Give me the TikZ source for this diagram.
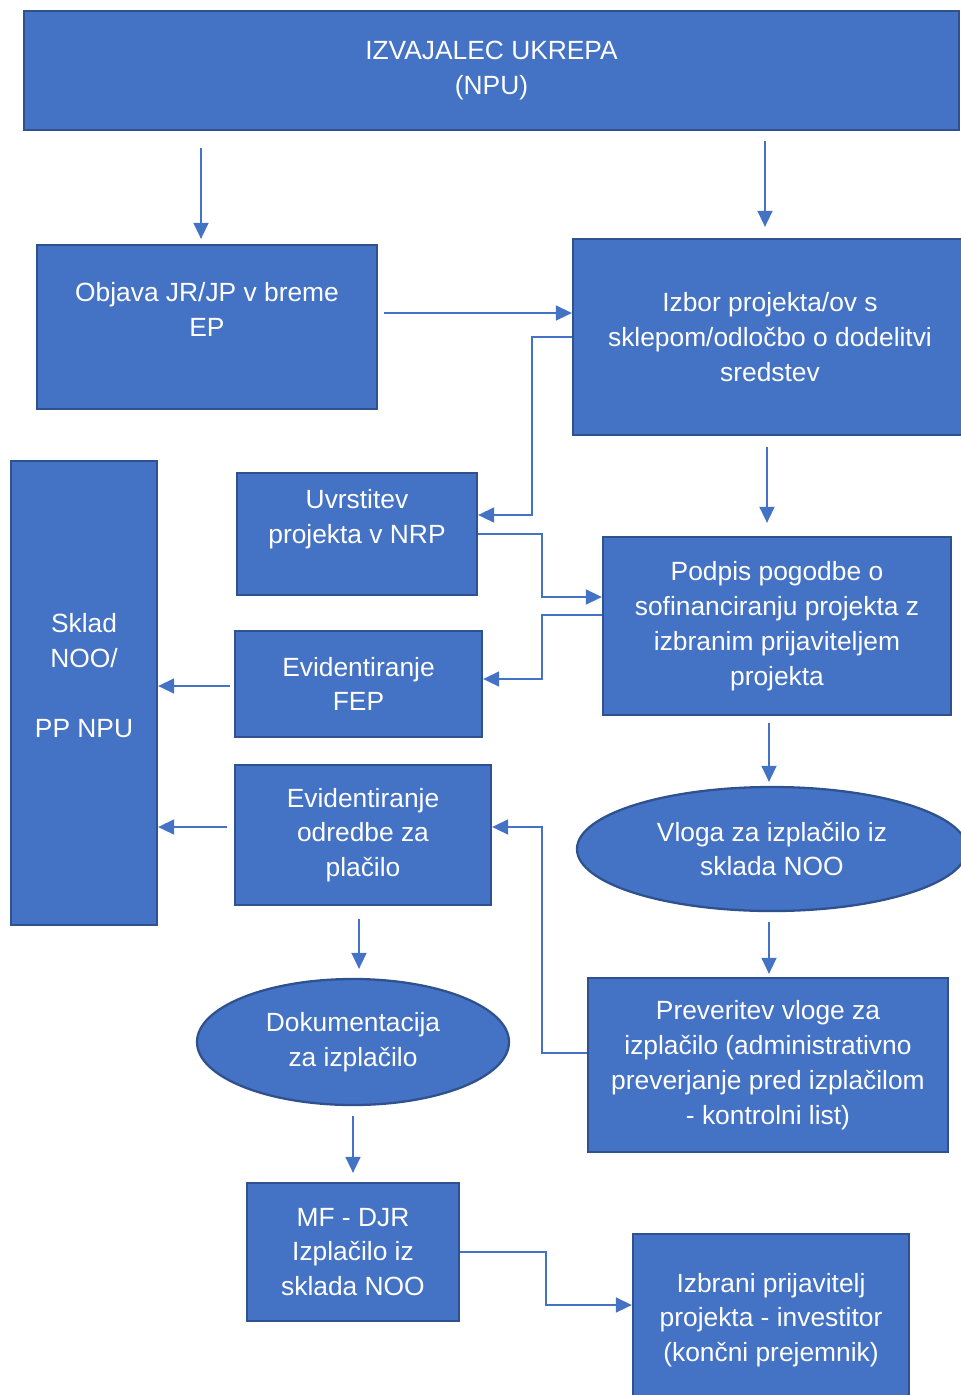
\documentclass[tikz,border=0pt]{standalone}
\usepackage{fontspec}
\setmainfont{Liberation Sans}
\usepackage{tikz}
\usetikzlibrary{shapes.geometric,arrows.meta,positioning,calc}
\definecolor{boxfill}{HTML}{4472C4}
\definecolor{boxline}{HTML}{2F528F}

\begin{document}
\begin{tikzpicture}[
	box/.style={draw=boxline,line width=1.3pt,fill=boxfill,text=white,align=center,inner sep=0pt,font=\fontsize{15}{19.8}\selectfont},
	oval/.style={box,ellipse},
	arr/.style={draw=boxfill,line width=0.9pt,-{Triangle[length=0.32cm,width=0.30cm]}}
	]
		\clip (0,0) rectangle (19.22,-27.9);
		%\draw (0,0) grid (19,-28);
		\node[box,minimum width=18.70cm,minimum height=2.38cm] (ukrep) at (9.83,-1.41) {IZVAJALEC UKREPA\\(NPU)};
		\node[box,minimum width=6.80cm,minimum height=3.28cm] (objava) at (4.14,-6.54) {Objava JR/JP v breme\\EP\\ \mbox{}};
		\node[box,minimum width=7.88cm,minimum height=3.92cm] (izbor) at (15.40,-6.74) {Izbor projekta/ov s\\sklepom/odločbo o dodelitvi\\sredstev};
		\node[box,minimum width=4.80cm,minimum height=2.44cm] (nrp) at (7.14,-10.68) {Uvrstitev\\projekta v NRP\\ \mbox{}};
		\node[box,minimum width=6.96cm,minimum height=3.56cm] (podpis) at (15.54,-12.52) {Podpis pogodbe o\\sofinanciranju projekta z\\izbranim prijaviteljem\\projekta};
		\node[box,minimum width=4.94cm,minimum height=2.12cm] (fep) at (7.17,-13.68) {Evidentiranje\\FEP};
		\node[box,minimum width=2.92cm,minimum height=9.28cm] (sklad) at (1.68,-13.86) {Sklad\\NOO/\\[19.8pt]PP NPU\\ \mbox{}};
		\node[box,minimum width=5.12cm,minimum height=2.80cm] (odredba) at (7.26,-16.70) {Evidentiranje\\odredbe za\\plačilo};
		\node[oval,minimum width=7.80cm,minimum height=2.48cm] (vloga) at (15.44,-16.98) {Vloga za izplačilo iz\\sklada NOO};
		\node[box,minimum width=7.20cm,minimum height=3.48cm] (preveritev) at (15.36,-21.30) {Preveritev vloge za\\izplačilo (administrativno\\preverjanje pred izplačilom\\- kontrolni list)};
		\node[oval,minimum width=6.24cm,minimum height=2.52cm] (dok) at (7.06,-20.84) {Dokumentacija\\za izplačilo};
		\node[box,minimum width=4.24cm,minimum height=2.76cm] (mf) at (7.06,-25.04) {MF - DJR\\Izplačilo iz\\sklada NOO};
		\node[box,minimum width=5.52cm,minimum height=3.44cm] (prejemnik) at (15.42,-26.40) {Izbrani prijavitelj\\projekta - investitor\\(končni prejemnik)};
		% povezave
		\draw[arr,shorten <=0.34cm,shorten >=0.10cm] (ukrep.south -| 4.02,0) -- (objava.north -| 4.02,0);
		\draw[arr,shorten <=0.20cm,shorten >=0.22cm] (ukrep.south -| 15.30,0) -- (izbor.north -| 15.30,0);
		\draw[arr,shorten <=0.12cm] ([yshift=0.28cm]objava.east) -- ([yshift=0.28cm]objava.east -| izbor.west);
		\draw[arr] (izbor.west) -- ++(-0.80,0) |- ([yshift=0.38cm]nrp.east);
		\draw[arr,shorten <=0.22cm,shorten >=0.26cm] (izbor.south -| 15.34,0) -- (podpis.north -| 15.34,0);
		\draw[arr] (nrp.east) -- ++(1.28,0) |- ([yshift=0.58cm]podpis.west);
		\draw[arr] ([yshift=0.22cm]podpis.west) -- ++(-1.20,0) |- ([yshift=0.10cm]fep.east);
		\draw[arr,shorten <=0.08cm] ([yshift=-0.04cm]fep.west) -- ([yshift=-0.04cm]fep.west -| sklad.east);
		\draw[arr,shorten <=0.14cm] ([yshift=0.16cm]odredba.west) -- ([yshift=0.16cm]odredba.west -| sklad.east);
		\draw[arr,shorten <=0.14cm,shorten >=0.08cm] (podpis.south -| 15.38,0) -- (vloga.north -| 15.38,0);
		\draw[arr,shorten <=0.20cm,shorten >=0.06cm] (vloga.south -| 15.38,0) -- (preveritev.north -| 15.38,0);
		\draw[arr] ([yshift=0.24cm]preveritev.west) -- ++(-0.90,0) |- ([yshift=0.16cm]odredba.east);
		\draw[arr,shorten <=0.26cm,shorten >=0.18cm] (odredba.south -| 7.18,0) -- (dok.north -| 7.18,0);
		\draw[arr,shorten <=0.20cm,shorten >=0.18cm] (dok.south) -- (mf.north);
		\draw[arr] (mf.east) -- ++(1.72,0) |- ([yshift=0.30cm]prejemnik.west);
	\end{tikzpicture}
\end{document}
